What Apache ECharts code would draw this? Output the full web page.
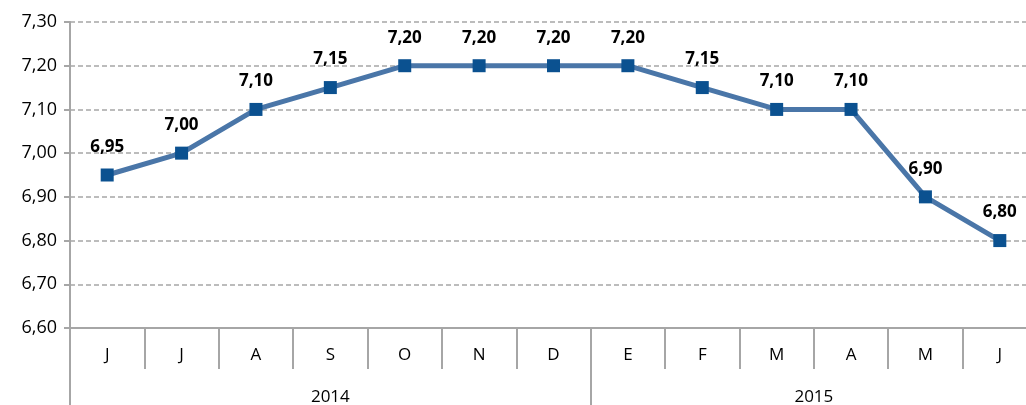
<!DOCTYPE html>
<html>
<head>
<meta charset="utf-8">
<script src="https://cdn.jsdelivr.net/npm/echarts@6/dist/echarts.min.js"></script>
<style>html,body{margin:0;padding:0;background:#fff;overflow:hidden;width:1026px;height:405px}#c{width:1037px;height:405px}</style>
</head>
<body>
<div id="c"></div>
<script>
const months = ['J','J','A','S','O','N','D','E','F','M','A','M','J'];
const values = [6.95, 7.00, 7.10, 7.15, 7.20, 7.20, 7.20, 7.20, 7.15, 7.10, 7.10, 6.90, 6.80];
const years = ['2014', '2015'];
const yearSpans = [7, 6];
const yTicks = [6.6, 7.3, 0.1]; // min, max, interval

// build half-step year axis (boundaryGap false, 2 points per month)
const yearAxis = [];
const yearBounds = [0];
let pos = 0;
for (let i = 0; i < yearSpans.length; i++) { pos += yearSpans[i] * 2; yearBounds.push(pos); }
for (let i = 0; i <= pos; i++) yearAxis.push('');
for (let i = 0; i < years.length; i++) {
  yearAxis[yearBounds[i] + yearSpans[i]] = years[i];
}

const fmt = v => v.toFixed(2).replace('.', ',');
const grey = '#a6a6a6';
const font = '"Open Sans", "Noto Sans", sans-serif';

const chart = echarts.init(document.getElementById('c'), null, {renderer: 'canvas'});
chart.setOption({
  animation: false,
  grid: {left: 70, top: 22, bottom: 77, right: 0, containLabel: false, outerBoundsMode: 'none'},
  xAxis: [{
    type: 'category',
    data: months,
    position: 'bottom',
    axisLine: {show: true, lineStyle: {color: grey, width: 2}},
    axisTick: {show: true, length: 41, lineStyle: {color: grey, width: 2}},
    axisLabel: {color: '#000', fontFamily: font, fontSize: 17, margin: 19},
    splitLine: {show: false}
  }, {
    type: 'category',
    data: yearAxis,
    position: 'bottom',
    boundaryGap: false,
    axisLine: {show: false},
    axisTick: {show: true, length: 80, interval: (i) => yearBounds.indexOf(i) >= 0, lineStyle: {color: grey, width: 2}},
    axisLabel: {color: '#000', fontFamily: font, fontSize: 17, margin: 61, interval: 0},
    splitLine: {show: false}
  }],
  yAxis: {
    type: 'value',
    min: yTicks[0], max: yTicks[1], interval: yTicks[2],
    axisLine: {show: true, lineStyle: {color: grey, width: 2}},
    axisTick: {show: true, length: 6, lineStyle: {color: grey, width: 2}},
    axisLabel: {color: '#000', fontFamily: font, fontSize: 18, margin: 13, formatter: fmt},
    splitLine: {show: true, lineStyle: {color: grey, width: 1.5, type: [5, 3]}}
  },
  series: [{
    type: 'line',
    xAxisIndex: 0,
    data: values,
    symbol: 'rect',
    symbolSize: 13,
    lineStyle: {color: '#4a76a8', width: 5},
    itemStyle: {color: '#0b5190'},
    label: {show: true, position: 'top', distance: 13, color: '#000', fontWeight: 'bold', fontFamily: font, fontSize: 17, formatter: p => fmt(p.value)}
  }]
});
</script>
</body>
</html>
